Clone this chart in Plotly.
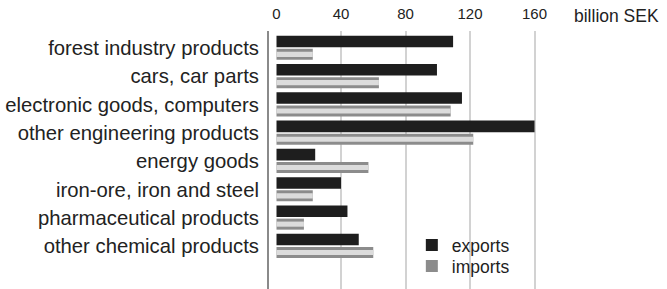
import plotly.graph_objects as go

categories = [
    "forest industry products",
    "cars, car parts",
    "electronic goods, computers",
    "other engineering products",
    "energy goods",
    "iron-ore, iron and steel",
    "pharmaceutical products",
    "other chemical products",
]
exports = [109.5, 99.5, 115, 160, 24, 40, 44, 51]
imports = [22.5, 63.5, 108, 122, 57, 22.5, 17, 60]
tick_vals = [0, 40, 80, 120, 160]
unit_label = "billion SEK"

FONT = "Liberation Sans"
DARK = "#1e1e1e"
STRIPE = "#8c8c8c"
LIGHT = "#dcdcdc"

fig = go.Figure()
fig.add_trace(go.Bar(
    y=categories, x=exports, orientation="h", name="exports",
    marker=dict(color=DARK, line=dict(width=0)),
    offset=-0.435, width=0.41, legend="legend",
))
fig.add_trace(go.Bar(
    y=categories, x=imports, orientation="h", name="imports",
    marker=dict(color=STRIPE, line=dict(width=0)),
    offset=0.03, width=0.39, legend="legend2",
))
fig.add_trace(go.Bar(
    y=categories, x=imports, orientation="h", name="imports", showlegend=False,
    marker=dict(color=LIGHT, line=dict(width=0)),
    offset=0.135, width=0.18,
))

legend_common = dict(
    x=0.385, xanchor="left", yanchor="middle",
    font=dict(family=FONT, size=17.5, color=DARK),
    bgcolor="rgba(0,0,0,0)", itemwidth=30, borderwidth=0,
)

fig.update_layout(
    width=667, height=289,
    margin=dict(l=269, r=27, t=31, b=0, autoexpand=False),
    paper_bgcolor="white", plot_bgcolor="white",
    barmode="overlay",
    showlegend=True,
    legend=dict(y=0.1705, **legend_common),
    legend2=dict(y=0.089, **legend_common),
    font=dict(family=FONT, color="#222222"),
)
fig.update_xaxes(
    side="top", range=[-4.65, 225.4], automargin=False,
    tickvals=tick_vals, ticktext=[str(v) for v in tick_vals],
    tickfont=dict(family=FONT, size=15, color="#222222"),
    showgrid=True, gridcolor="#d2d2d2", gridwidth=1.5,
    zeroline=True, zerolinecolor="white", zerolinewidth=2,
    showline=False, ticks="", ticklabelstandoff=8,
)
fig.update_yaxes(
    type="category", categoryorder="array", categoryarray=categories,
    range=[8.517, -0.6], automargin=False,
    tickfont=dict(family=FONT, size=20.3, color="#222222"),
    showline=True, linecolor="#8a8a8a", linewidth=2,
    showgrid=False, zeroline=False, ticks="", ticklabelstandoff=4,
)
fig.add_annotation(
    text=unit_label, xref="x", x=183, yref="paper", y=1,
    xanchor="left", yanchor="middle", yshift=15.5, showarrow=False,
    font=dict(family=FONT, size=17.5, color="#222222"),
)

# remove the browser's default 8px body margin so the figure fills the window
fig.write_html(
    "out.html",
    config={"displayModeBar": False},
    post_script="document.body.style.margin='0';",
)
